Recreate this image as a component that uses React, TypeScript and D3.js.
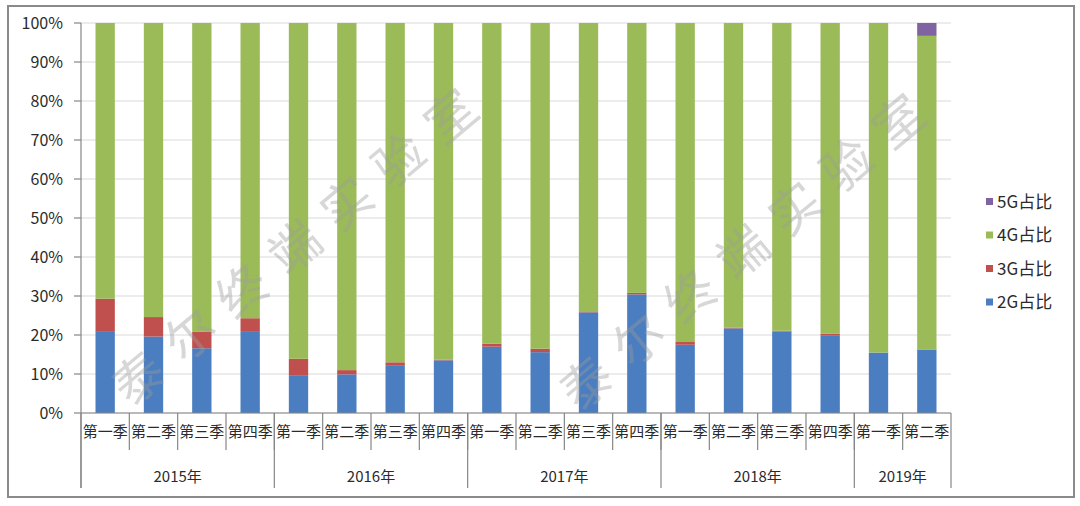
import React from "react";
import * as d3 from "d3";

const years = ["2015年", "2016年", "2017年", "2018年", "2019年"];
const quartersPerYear = [4, 4, 4, 4, 2];
const quarterNames = ["第一季", "第二季", "第三季", "第四季"];

const share2G = [20.8, 19.6, 16.6, 20.8, 9.7, 9.9, 12.1, 13.5, 17.0, 15.6, 25.8, 30.4, 17.5, 21.7, 20.9, 19.8, 15.5, 16.3];
const share3G = [8.5, 5.0, 4.2, 3.5, 4.2, 1.1, 0.9, 0.2, 0.8, 0.9, 0.1, 0.4, 0.7, 0.2, 0.2, 0.5, 0.0, 0.0];
const share4G = [70.7, 75.4, 79.2, 75.7, 86.1, 89.0, 87.0, 86.3, 82.2, 83.5, 74.1, 69.2, 81.8, 78.1, 78.9, 79.7, 84.5, 80.4];
const share5G = [0, 0, 0, 0, 0, 0, 0, 0, 0, 0, 0, 0, 0, 0, 0, 0, 0, 3.3];

const seriesNames = ["2G占比", "3G占比", "4G占比", "5G占比"];
const seriesColors = ["#4A7EC0", "#C0504D", "#9BBB59", "#8064A2"];
const yTicks = [0, 10, 20, 30, 40, 50, 60, 70, 80, 90, 100];
const watermark = "泰尔终端实验室";

export default function App() {
  const W = 1080, H = 506;
  const left = 81, right = 951, top = 23, bottom = 413;
  const font = "'Noto Sans CJK SC', 'Noto Sans', sans-serif";

  const cats: { year: number; q: number; label: string }[] = [];
  quartersPerYear.forEach((n, yi) => {
    for (let q = 0; q < n; q++) cats.push({ year: yi, q, label: quarterNames[q] });
  });
  const rows = cats.map((c, i) => ({
    i,
    "2G占比": share2G[i],
    "3G占比": share3G[i],
    "4G占比": share4G[i],
    "5G占比": share5G[i],
  }));

  const x = d3.scaleBand<number>().domain(cats.map((_, i) => i)).range([left, right]).padding(0);
  const y = d3.scaleLinear().domain([0, 100]).range([bottom, top]);
  const stack = d3.stack<any>().keys(seriesNames);
  const stacked = stack(rows);
  const step = x.step();
  const barW = step * 0.4;

  const yearBounds: number[] = [left];
  let acc = 0;
  quartersPerYear.forEach((n) => {
    acc += n;
    yearBounds.push(left + acc * step);
  });

  return (
    <svg width={W} height={H} style={{ position: "absolute", left: 0, top: 0, background: "#fff" }} fontFamily={font}>
      <rect x={0} y={0} width={W} height={H} fill="#fff" />
      <rect x={8} y={6} width={1066} height={491} fill="none" stroke="#8a8a8a" strokeWidth={2} />
      {yTicks.map((t) => (
        <line key={"g" + t} x1={left} x2={right} y1={y(t)} y2={y(t)} stroke="#d9d9d9" strokeWidth={1.2} />
      ))}
      {stacked.map((s, si) => (
        <g key={seriesNames[si]} fill={seriesColors[si]}>
          {s.map((d, i) => {
            const h = y(d[0]) - y(d[1]);
            if (h <= 0) return null;
            return <rect key={i} x={(x(i) as number) + (step - barW) / 2} y={y(d[1])} width={barW} height={h} />;
          })}
        </g>
      ))}
      <line x1={left} x2={left} y1={top} y2={488} stroke="#868686" strokeWidth={1.2} />
      {yTicks.map((t) => (
        <g key={"t" + t}>
          <line x1={left - 7} x2={left} y1={y(t)} y2={y(t)} stroke="#868686" strokeWidth={1.2} />
          <text x={63} y={y(t)} dy="0.35em" textAnchor="end" fontSize={16} fill="#2b2b2b">
            {t + "%"}
          </text>
        </g>
      ))}
      <line x1={left} x2={right} y1={bottom} y2={bottom} stroke="#868686" strokeWidth={1.2} />
      {cats.map((c, i) =>
        i > 0 ? (
          <line key={"s" + i} x1={x(i) as number} x2={x(i) as number} y1={bottom} y2={450} stroke="#868686" strokeWidth={1.2} />
        ) : null
      )}
      {yearBounds.map((b, i) => (
        <line key={"yb" + i} x1={b} x2={b} y1={bottom} y2={488} stroke="#868686" strokeWidth={1.2} />
      ))}
      {cats.map((c, i) => (
        <text key={"c" + i} x={(x(i) as number) + step / 2} y={432} dy="0.35em" textAnchor="middle" fontSize={15} fill="#2b2b2b">
          {c.label}
        </text>
      ))}
      {years.map((yr, i) => (
        <text key={yr} x={(yearBounds[i] + yearBounds[i + 1]) / 2} y={477} dy="0.35em" textAnchor="middle" fontSize={15} fill="#2b2b2b">
          {yr}
        </text>
      ))}
      {[3, 2, 1, 0].map((si, k) => (
        <g key={"l" + si} transform={`translate(986, ${202 + k * 33.5})`}>
          <rect x={0} y={-4} width={7} height={7} fill={seriesColors[si]} />
          <text x={11} y={0} dy="0.35em" fontSize={17} fill="#2b2b2b">
            {seriesNames[si]}
          </text>
        </g>
      ))}
      {[
        [302, 242],
        [750, 247],
      ].map(([cx, cy], k) => (
        <text
          key={"w" + k}
          x={cx}
          y={cy}
          transform={`rotate(-40 ${cx} ${cy})`}
          textAnchor="middle"
          dy="0.35em"
          fontSize={50}
          letterSpacing={18}
          fill="#9a9a9a"
          fillOpacity={0.4}
          fontFamily={font}
        >
          {watermark}
        </text>
      ))}
    </svg>
  );
}
